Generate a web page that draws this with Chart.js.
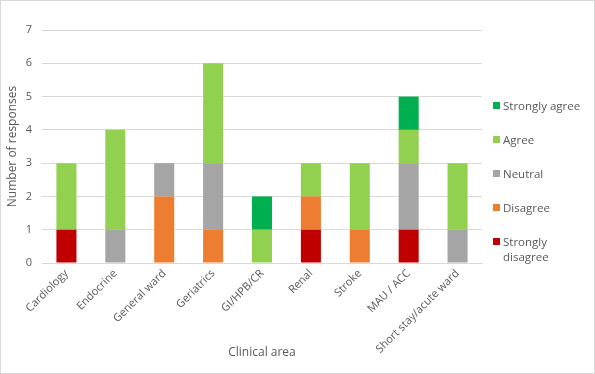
<!DOCTYPE html>
<html>
<head>
<meta charset="utf-8">
<script src="https://cdn.jsdelivr.net/npm/chart.js@4/dist/chart.umd.min.js"></script>
<style>
  html, body { margin: 0; padding: 0; background: #fff; }
  #wrap { position: relative; width: 595px; height: 374px; box-sizing: border-box; border: 1px solid #d9d9d9; overflow: hidden; }
  #c { position: absolute; left: 0; top: 0; }
  #legend { position: absolute; left: 492px; top: 0; font-family: "Open Sans", "Noto Sans", sans-serif; font-size: 11.5px; color: #595959; }
  .li { position: absolute; left: 0; white-space: nowrap; line-height: 15px; }
  .sw { position: absolute; left: 0; top: 4px; width: 7px; height: 7px; }
  .tx { position: absolute; left: 10px; top: 0; }
</style>
</head>
<body>
<div id="wrap"><canvas id="c" width="595" height="374"></canvas><div id="legend"></div></div>
<script>
const categories = ["Cardiology","Endocrine","General ward","Geriatrics","GI/HPB/CR","Renal","Stroke","MAU / ACC","Short stay/acute ward"];
const seriesNames = ["Strongly disagree","Disagree","Neutral","Agree","Strongly agree"];
const stronglyDisagree = [1,0,0,0,0,1,0,1,0];
const disagree         = [0,0,2,1,0,1,1,0,0];
const neutral          = [0,1,1,2,0,0,0,2,1];
const agree            = [2,3,0,3,1,1,2,1,2];
const stronglyAgree    = [0,0,0,0,1,0,0,1,0];
const yTicks = [0,1,2,3,4,5,6,7];
const colors = ["#C00000","#ED7D31","#A5A5A5","#92D050","#00B050"];
const seriesData = [stronglyDisagree, disagree, neutral, agree, stronglyAgree];

const datasets = seriesNames.map((n,i)=>({
  label: n, data: seriesData[i], backgroundColor: colors[i],
  borderWidth: 0, barPercentage: 0.82, categoryPercentage: 0.5
}));

const font = { family: "'Open Sans', 'Noto Sans', sans-serif", size: 11 };
new Chart(document.getElementById('c'), {
  type: 'bar',
  data: { labels: categories, datasets },
  options: {
    responsive: false, animation: false,
    layout: { padding: { top: 29, right: 114, bottom: 0, left: 4 } },
    plugins: { legend: { display: false }, tooltip: { enabled: false } },
    scales: {
      x: {
        stacked: true,
        afterFit: s => { s.height = 112; },
        grid: { display: false, drawTicks: false },
        border: { display: true, color: "#d9d9d9" },
        ticks: { color: "#595959", font, maxRotation: 45, minRotation: 45, autoSkip: false, padding: 4 },
        title: { display: true, text: "Clinical area", color: "#595959", font: { ...font, size: 12 }, padding: { top: 2, bottom: 15 } }
      },
      y: {
        stacked: true, min: 0, max: 7,
        afterFit: s => { s.width = 37; },
        afterBuildTicks: s => { s.ticks = yTicks.map(v => ({ value: v })); },
        grid: { color: "#d9d9d9", drawTicks: false },
        border: { display: false },
        ticks: { color: "#595959", font, padding: 10 },
        title: { display: true, text: "Number of responses", color: "#595959", font: { ...font, size: 12 }, padding: { top: 0, bottom: 2 } }
      }
    }
  }
});

// legend (reversed order, like the reference)
const lg = document.getElementById('legend');
const legendTops = [97, 131, 165, 199, 233];
seriesNames.slice().reverse().forEach((n, k) => {
  const i = seriesNames.length - 1 - k;
  const d = document.createElement('div');
  d.className = 'li';
  d.style.top = legendTops[k] + 'px';
  const txt = n === "Strongly disagree" ? "Strongly<br>disagree" : n;
  d.innerHTML = '<span class="sw" style="background:' + colors[i] + '"></span><span class="tx">' + txt + '</span>';
  lg.appendChild(d);
});
</script>
</body>
</html>
